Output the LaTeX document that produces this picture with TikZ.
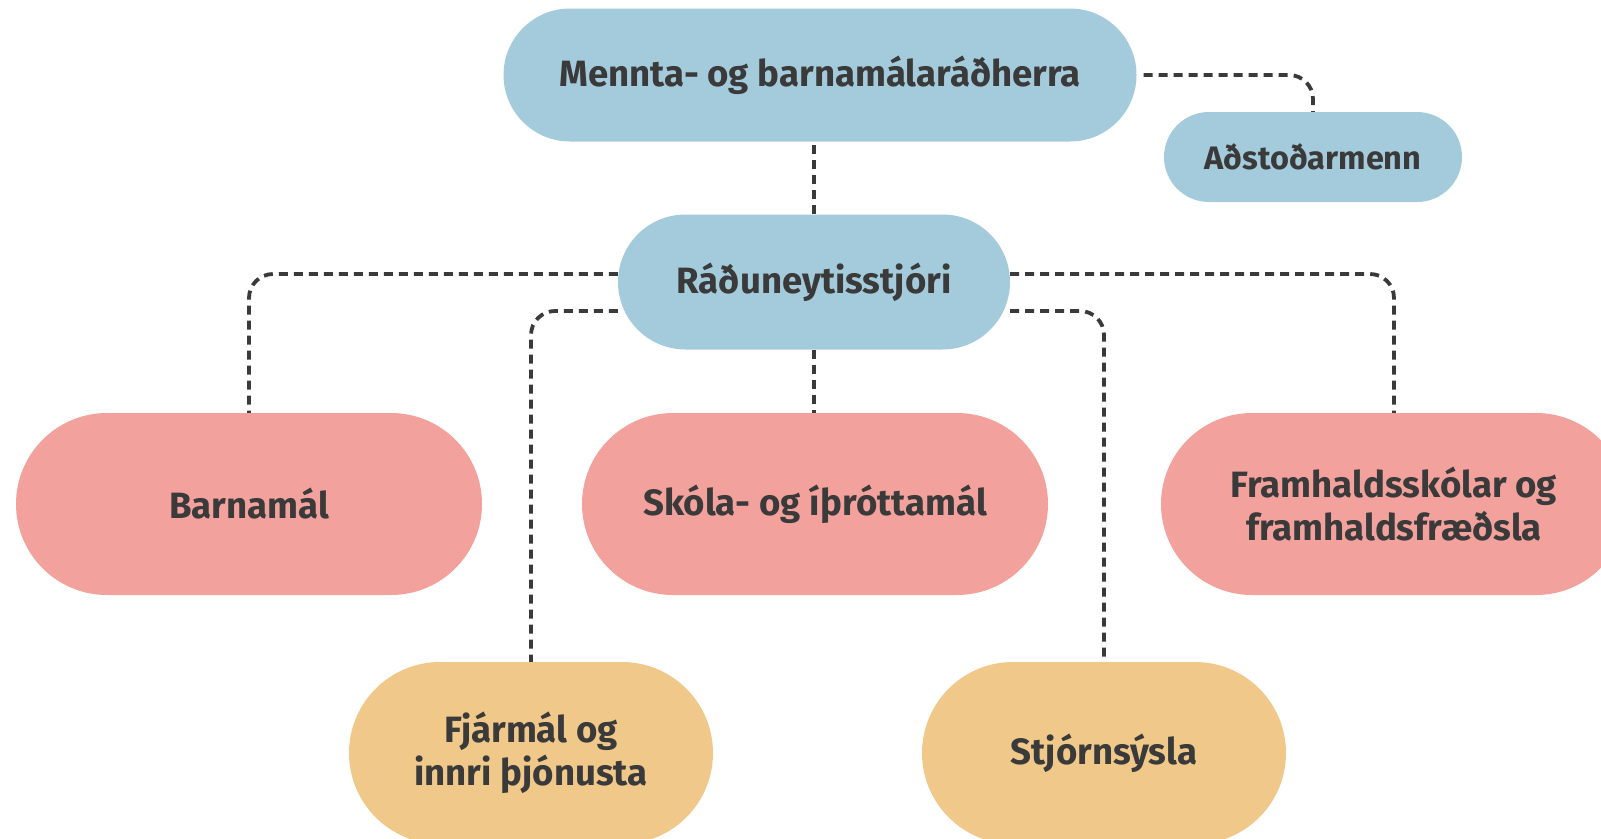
\documentclass[tikz,border=0pt]{standalone}
\usepackage{fontspec}
\setmainfont{Fira Sans}
\usetikzlibrary{shapes.misc,backgrounds}
\definecolor{radblue}{HTML}{A4CBDC}
\definecolor{deildred}{HTML}{F2A19C}
\definecolor{svidgul}{HTML}{F0C88A}
\definecolor{textgray}{HTML}{3A3A3A}
\tikzset{
  box/.style={rounded rectangle, inner sep=0pt, text=textgray, align=center,
    font=\fontsize{36.6}{43}\selectfont\bfseries},
  bluebox/.style={box, fill=radblue},
  redbox/.style={box, fill=deildred, minimum width=466pt, minimum height=182pt},
  yellowbox/.style={box, fill=svidgul, minimum width=364pt, minimum height=182pt},
  tengill/.style={draw=textgray, line width=3.8pt, dash pattern=on 9pt off 6pt,
    rounded corners=24pt}
}
\begin{document}
\begin{tikzpicture}[x=1pt,y=-1pt]
\useasboundingbox (0,0) rectangle (1601,838);

\node[bluebox, minimum width=633pt, minimum height=133pt] (radherra) at (820,75) {Mennta- og barnamálaráðherra};
\node[bluebox, minimum width=298pt, minimum height=90pt,
  font=\fontsize{32.5}{38}\selectfont\bfseries] (adstod) at (1313,157) {Aðstoðarmenn};
\node[bluebox, minimum width=392pt, minimum height=135pt] (rstjori) at (814,282) {Ráðuneytisstjóri};

\node[redbox] (barn) at (249,504) {Barnamál};
\node[redbox] (skoli) at (815,504) {Skóla- og íþróttamál};
\node[redbox] (framh) at (1394,504) {Framhaldsskólar og\\framhaldsfræðsla};

\node[yellowbox] (fjarmal) at (531,753) {Fjármál og\\innri þjónusta};
\node[yellowbox] (stjorn) at (1104,753) {Stjórnsýsla};

\begin{scope}[on background layer]
\draw[tengill] ([xshift=7pt]radherra.east) -| (adstod.north);
\draw[tengill] (rstjori) -- (rstjori |- radherra);
\draw[tengill] (rstjori) -- (rstjori |- skoli);
\draw[tengill] ([yshift=8pt]rstjori.west) -| (barn.north);
\draw[tengill] ([yshift=8pt]rstjori.east) -| (framh.north);
\draw[tengill] ([yshift=-29pt]rstjori.west) -| (fjarmal.north);
\draw[tengill] ([yshift=-29pt]rstjori.east) -| (stjorn.north);
\end{scope}
\end{tikzpicture}
\end{document}
